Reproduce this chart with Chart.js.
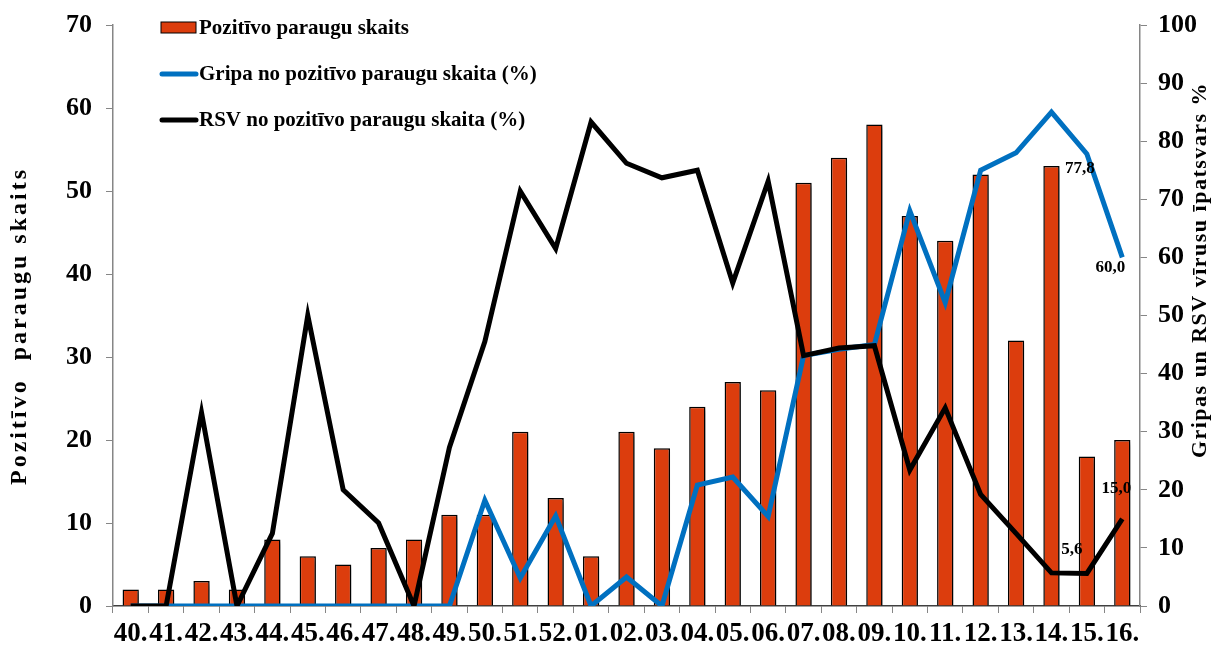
<!DOCTYPE html>
<html>
<head>
<meta charset="utf-8">
<script src="https://cdn.jsdelivr.net/npm/chart.js@4"></script>
<style>
  html, body { margin: 0; padding: 0; background: #fff; }
  #wrap { width: 1212px; height: 648px; }
</style>
</head>
<body>
<div id="wrap"><canvas id="chart"></canvas></div>
<script>
const weeks = ['40.','41.','42.','43.','44.','45.','46.','47.','48.','49.','50.','51.','52.',
  '01.','02.','03.','04.','05.','06.','07.','08.','09.','10.','11.','12.','13.','14.','15.','16.'];
const positives = [2,2,3,2,8,6,5,7,8,11,11,21,13,
  6,21,19,24,27,26,51,54,58,47,44,52,32,53,18,20];
const gripaPct = [0,0,0,0,0,0,0,0,0,0,18.2,4.8,15.5,
  0,5.0,0,20.8,22.2,15.4,43.1,44.2,45.0,68.0,52.2,75.0,78.0,85.0,77.8,60.0];
const rsvPct = [0,0,33.3,0,12.5,50.0,20.0,14.3,0,27.3,45.5,71.4,61.5,
  83.3,76.2,73.7,75.0,55.6,73.1,43.1,44.4,44.8,23.4,34.1,19.2,12.5,5.7,5.6,15.0];
const labelledWeeks = ['15.', '16.'];

const serif = "'Liberation Serif', 'Times New Roman', serif";
const barColor = '#DC3D0D';
const blue = '#0070C0';
const axisGray = '#868686';

const fmt = v => v.toFixed(1).replace('.', ',');

// shadow under the bars
const barShadow = {
  id: 'barShadow',
  beforeDatasetDraw(chart, args) {
    if (args.index !== 0) return;
    const ctx = chart.ctx;
    ctx.save();
    ctx.shadowColor = 'rgba(0,0,0,0.35)';
    ctx.shadowOffsetX = 4;
    ctx.shadowOffsetY = 3;
    ctx.shadowBlur = 4;
  },
  afterDatasetDraw(chart, args) {
    if (args.index !== 0) return;
    chart.ctx.restore();
  }
};

// legend, axis titles, value labels
const extras = {
  id: 'extras',
  afterDraw(chart) {
    const ctx = chart.ctx;
    ctx.save();

    // legend
    const items = [
      { text: 'Pozitīvo paraugu skaits', type: 'bar' },
      { text: 'Gripa no pozitīvo paraugu skaita (%)', type: 'line', color: blue },
      { text: 'RSV no pozitīvo paraugu skaita (%)', type: 'line', color: '#000' }
    ];
    ctx.font = 'bold 21px ' + serif;
    ctx.textBaseline = 'middle';
    ctx.textAlign = 'left';
    items.forEach((it, i) => {
      const y = 28 + i * 46;
      if (it.type === 'bar') {
        ctx.fillStyle = barColor;
        ctx.fillRect(161, y - 6, 35, 11);
        ctx.strokeStyle = '#000';
        ctx.lineWidth = 1;
        ctx.strokeRect(161, y - 6, 35, 11);
      } else {
        ctx.strokeStyle = it.color;
        ctx.lineWidth = 5;
        ctx.lineCap = 'round';
        ctx.beginPath();
        ctx.moveTo(162, y);
        ctx.lineTo(196, y);
        ctx.stroke();
      }
      ctx.fillStyle = '#000';
      ctx.fillText(it.text, 199, y + 1);
    });

    // axis titles
    ctx.textAlign = 'center';
    ctx.fillStyle = '#000';
    ctx.save();
    ctx.font = 'bold 24px ' + serif;
    ctx.translate(20, 326);
    ctx.rotate(-Math.PI / 2);
    ctx.letterSpacing = '3px';
    ctx.fillText('Pozitīvo  paraugu skaits', 0, 0);
    ctx.restore();
    ctx.save();
    ctx.font = 'bold 22px ' + serif;
    ctx.translate(1200, 270);
    ctx.rotate(-Math.PI / 2);
    ctx.letterSpacing = '1.5px';
    ctx.fillText('Gripas un RSV vīrusu īpatsvars %', 0, 0);
    ctx.restore();

    // value labels on the last weeks
    ctx.font = 'bold 17px ' + serif;
    const x = chart.scales.x, y1 = chart.scales.y1;
    labelledWeeks.forEach(w => {
      const i = weeks.indexOf(w);
      const px = x.getPixelForValue(i);
      const last = i === weeks.length - 1;
      // Gripa label below-left
      const g = gripaPct[i];
      ctx.fillText(fmt(g), px + (last ? -12 : -7), y1.getPixelForValue(g) + (last ? 10 : 15));
      // RSV label above
      const r = rsvPct[i];
      ctx.fillText(fmt(r), px + (last ? -6 : -15), y1.getPixelForValue(r) - (last ? 30 : 24));
    });
    ctx.restore();
  }
};

new Chart(document.getElementById('chart'), {
  type: 'bar',
  data: {
    labels: weeks,
    datasets: [
      {
        type: 'bar',
        label: 'Pozitīvo paraugu skaits',
        data: positives,
        backgroundColor: barColor,
        borderColor: '#000',
        borderWidth: 1.5,
        barPercentage: 0.46,
        categoryPercentage: 1,
        yAxisID: 'y',
        order: 3
      },
      {
        type: 'line',
        label: 'Gripa no pozitīvo paraugu skaita (%)',
        data: gripaPct,
        borderColor: blue,
        borderWidth: 5,
        pointRadius: 0,
        tension: 0,
        fill: false,
        yAxisID: 'y1',
        order: 2
      },
      {
        type: 'line',
        label: 'RSV no pozitīvo paraugu skaita (%)',
        data: rsvPct,
        borderColor: '#000',
        borderWidth: 5,
        pointRadius: 0,
        tension: 0,
        fill: false,
        yAxisID: 'y1',
        order: 1
      }
    ]
  },
  options: {
    responsive: true,
    maintainAspectRatio: false,
    animation: false,
    events: [],
    layout: { autoPadding: false, padding: { top: 25, left: 0, right: 0, bottom: 0 } },
    plugins: {
      legend: { display: false },
      tooltip: { enabled: false }
    },
    scales: {
      x: {
        offset: true,
        grid: { offset: true, drawOnChartArea: false, tickLength: 7, color: axisGray },
        border: { color: '#404040', width: 1.5 },
        ticks: {
          autoSkip: false, maxRotation: 0, minRotation: 0, padding: 5,
          color: '#000', font: { family: serif, size: 27, weight: 'bold' }
        },
        afterFit(s) { s.height = 42; s.paddingLeft = 0; s.paddingRight = 0; }
      },
      y: {
        position: 'left',
        min: 0, max: 70,
        grid: { drawOnChartArea: false, tickLength: 7, color: axisGray },
        border: { color: axisGray, width: 1.5 },
        ticks: {
          stepSize: 10, padding: 14,
          color: '#000', font: { family: serif, size: 26, weight: 'bold' }
        },
        afterFit(s) { s.width = 113; s.paddingTop = 0; s.paddingBottom = 0; }
      },
      y1: {
        position: 'right',
        min: 0, max: 100,
        grid: { drawOnChartArea: false, tickLength: 7, color: axisGray },
        border: { color: axisGray, width: 1.5 },
        ticks: {
          stepSize: 10, padding: 11,
          color: '#000', font: { family: serif, size: 26, weight: 'bold' }
        },
        afterFit(s) { s.width = 72; s.paddingTop = 0; s.paddingBottom = 0; }
      }
    }
  },
  plugins: [barShadow, extras]
});
</script>
</body>
</html>
